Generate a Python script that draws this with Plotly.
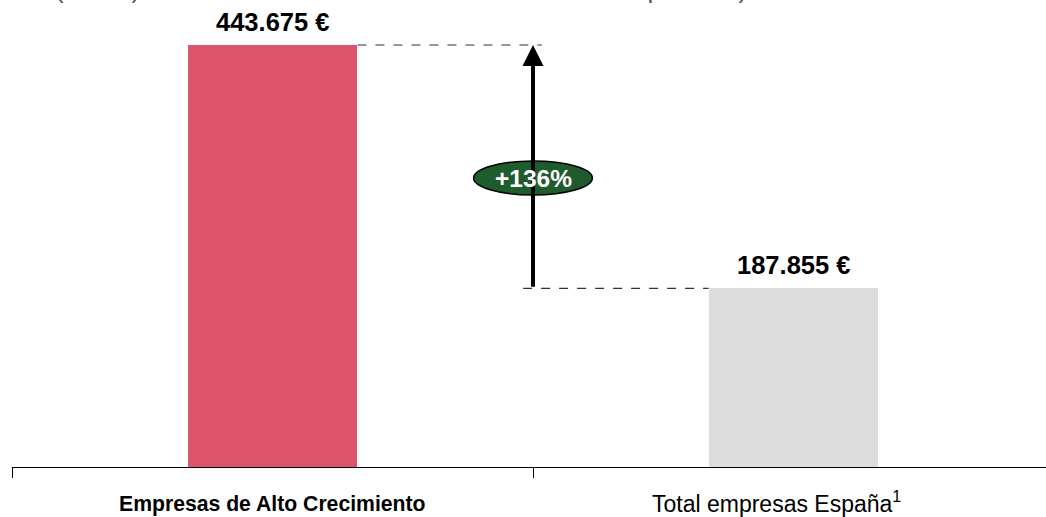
import plotly.graph_objects as go

categories = ["<b>Empresas de Alto Crecimiento</b>", "Total empresas España<sup>1</sup>"]
values = [443675, 187855]
value_labels = ["443.675 €", "187.855 €"]
bar_colors = ["#dc556a", "#dddddd"]
diff_label = "+136%"
title_text = "(Euros) Facturación dividida entre el número de empleados)"

FONT = "Liberation Sans, Arial, sans-serif"
bar_w = 0.326
x_idx = [0, 1]

fig = go.Figure()
fig.add_trace(go.Bar(
    x=x_idx, y=values, width=bar_w, marker=dict(color=bar_colors, line=dict(width=0)),
    hoverinfo="skip",
))

for xi, v, lab in zip(x_idx, values, value_labels):
    fig.add_annotation(x=xi, y=v, xref="x", yref="y", text="<b>%s</b>" % lab,
                       showarrow=False, yanchor="bottom", yshift=7,
                       font=dict(family=FONT, size=25.5, color="#000000"))

# category labels
label_x = [0, 0.967]
label_size = [21.2, 23]
label_shift = [-23, -18]
for lx, cat, sz, sh in zip(label_x, categories, label_size, label_shift):
    fig.add_annotation(x=lx, y=0, xref="x", yref="paper", text=cat, showarrow=False,
                       yanchor="top", yshift=sh, font=dict(family=FONT, size=sz, color="#000000"))

# dashed connectors
fig.add_shape(type="line", x0=bar_w / 2, x1=0.517, y0=values[0], y1=values[0],
              line=dict(color="#333333", width=1.2, dash="dash"), layer="below")
fig.add_shape(type="line", x0=0.481, x1=1 - bar_w / 2, y0=values[1], y1=values[1],
              line=dict(color="#333333", width=1.2, dash="dash"), layer="below")

# arrow
fig.add_annotation(x=0.5, y=values[0], ax=0.5, ay=values[1], axref="x", ayref="y",
                   xref="x", yref="y", text="", showarrow=True, arrowhead=2,
                   arrowsize=1.05, arrowwidth=4, arrowcolor="#000000", standoff=0, startstandoff=0)

# ellipse with percentage
yc = 303850
fig.add_shape(type="circle", x0=0.386, x1=0.614, y0=yc - 17900, y1=yc + 17900,
              fillcolor="#1e5c2e", line=dict(color="#000000", width=1.5), layer="above")
fig.add_annotation(x=0.5, y=yc, xref="x", yref="y", text="<b>%s</b>" % diff_label,
                   showarrow=False, font=dict(family=FONT, size=24.5, color="#ffffff"))

# clipped title at top
fig.add_annotation(x=0.04, y=1.0, xref="paper", yref="paper", xanchor="left", yanchor="bottom",
                   yshift=-6, text=title_text, showarrow=False,
                   font=dict(family=FONT, size=26, color="#555555"))

fig.update_layout(
    width=1046, height=517,
    margin=dict(l=12, r=0, t=0, b=50),
    plot_bgcolor="#ffffff", paper_bgcolor="#ffffff",
    showlegend=False, bargap=0,
    xaxis=dict(
        type="category", tickmode="array", tickvals=x_idx, ticktext=["", ""],
        range=[-0.5, 1.4846], showline=True, linecolor="#000000", linewidth=1.2,
        ticks="outside", tickson="boundaries", ticklen=10, tickcolor="#000000", tickwidth=1.2,
        showgrid=False, zeroline=False,
    ),
    yaxis=dict(range=[0, 491000], visible=False, showgrid=False, zeroline=False),
)

fig.write_html("out.html", config={"displayModeBar": False},
               post_script="document.body.style.margin='0';")
